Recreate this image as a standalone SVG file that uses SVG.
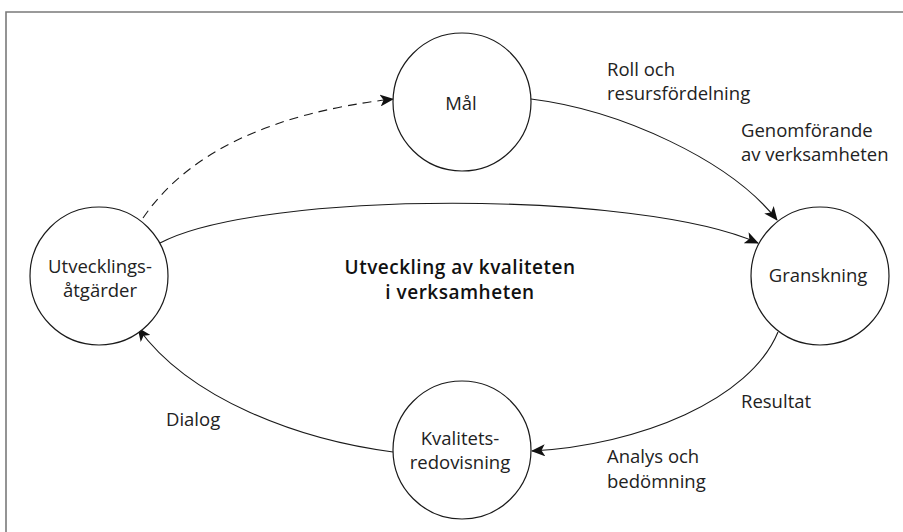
<svg xmlns="http://www.w3.org/2000/svg" width="903" height="532" viewBox="0 0 903 532">
<style>
  .frame { fill: none; stroke: #7a7a7a; stroke-width: 1.6; }
  .node circle { fill: #ffffff; stroke: #1a1a1a; stroke-width: 1.2; }
  text { font-family: "Open Sans", "Noto Sans", sans-serif; font-size: 18.5px; fill: #222222; }
  .c { text-anchor: middle; }
  .title { font-weight: 600; font-size: 19px; letter-spacing: 0.5px; fill: #111111; }
  .edge { fill: none; stroke: #1a1a1a; stroke-width: 1.1; }
  .dash { stroke-dasharray: 9 6; }
</style>
<defs>
  <marker id="arr" viewBox="0 0 14 12" refX="13" refY="6" markerWidth="14" markerHeight="12" markerUnits="userSpaceOnUse" orient="auto">
    <path d="M0,0 L14,6 L0,12 L3.5,6 Z" fill="#111111"/>
  </marker>
</defs>
<path class="frame" d="M6,532 L6,12 L903,12"/>
<g id="connectors">
  <path class="edge dash" d="M143,218 Q210,120 393,99" marker-end="url(#arr)"/>
  <path class="edge" d="M160,243 C260,190 640,190 758,243" marker-end="url(#arr)"/>
  <path class="edge" d="M531,99 C620,110 730,160 777,220" marker-end="url(#arr)"/>
  <path class="edge" d="M778,332 C750,400 640,445 532,451" marker-end="url(#arr)"/>
  <path class="edge" d="M393,452 C300,440 190,400 138,328" marker-end="url(#arr)"/>
</g>
<g id="node-mal" class="node">
  <circle cx="462" cy="102" r="69"/>
  <text class="c" x="461" y="110">Mål</text>
</g>
<g id="node-utveckling" class="node">
  <circle cx="99" cy="276" r="69"/>
  <text class="c" x="100" y="273">Utvecklings-<tspan x="100" dy="24">åtgärder</tspan></text>
</g>
<g id="node-granskning" class="node">
  <circle cx="820" cy="276" r="69"/>
  <text class="c" x="818" y="282">Granskning</text>
</g>
<g id="node-kvalitet" class="node">
  <circle cx="462" cy="450" r="69"/>
  <text class="c" x="460" y="445">Kvalitets-<tspan x="460" dy="24">redovisning</tspan></text>
</g>
<g id="labels">
  <text class="c title" x="460" y="274">Utveckling av kvaliteten<tspan x="460" dy="25">i verksamheten</tspan></text>
  <text x="607" y="76">Roll och<tspan x="607" dy="24">resursfördelning</tspan></text>
  <text x="741" y="137">Genomförande<tspan x="741" dy="24">av verksamheten</tspan></text>
  <text x="166" y="426">Dialog</text>
  <text x="741" y="408">Resultat</text>
  <text x="607" y="463">Analys och<tspan x="607" dy="25">bedömning</tspan></text>
</g>
</svg>
